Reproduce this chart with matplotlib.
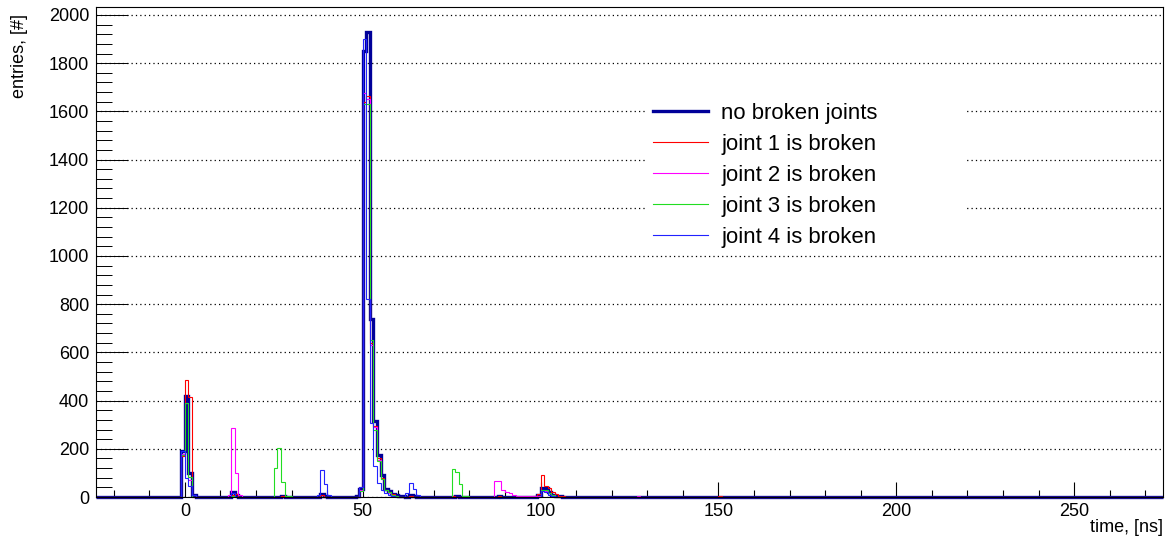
import numpy as np
import matplotlib
matplotlib.use('Agg')
import matplotlib.pyplot as plt
from matplotlib.patches import Rectangle

plt.rcParams['font.family'] = ['Liberation Sans', 'DejaVu Sans']

# histogram binning: 1 ns bins from -25 to 275 ns
t_min, t_max = -25, 275

# sparse bin contents: left bin edge [ns] -> entries
nobroken_t = [-1, 0, 1, 2, 13, 14, 27, 38, 39, 48, 49, 50, 51, 52, 53, 54, 55, 56, 57, 58, 59, 60, 61,
              63, 64, 76, 88, 99, 100, 101, 102, 103, 104, 105]
nobroken_n = [190, 420, 100, 10, 20, 8, 4, 12, 6, 5, 35, 1850, 1930, 740, 315, 175, 90, 35, 25, 14, 8, 5, 3,
              10, 5, 4, 6, 8, 36, 36, 20, 10, 5, 3]

joint1_t = [-1, 0, 1, 13, 14, 27, 38, 49, 50, 51, 52, 53, 54, 55, 56, 57, 58, 59, 63, 75, 88,
            98, 99, 100, 101, 102, 103, 104, 105, 106, 150]
joint1_n = [170, 485, 415, 10, 12, 5, 10, 40, 1640, 1665, 640, 295, 160, 80, 30, 22, 12, 6, 5, 4, 5,
            5, 12, 91, 46, 39, 22, 11, 6, 3, 3]

joint2_t = [-1, 0, 1, 12, 13, 14, 15, 49, 50, 51, 52, 53, 54, 55, 56, 57, 58, 59,
            87, 88, 89, 90, 91, 92, 93, 94, 95, 96, 97, 98, 99, 100, 101, 102, 103, 127]
joint2_n = [180, 390, 70, 8, 288, 100, 10, 30, 1675, 1650, 630, 290, 155, 75, 30, 18, 8, 5,
            65, 65, 29, 22, 15, 8, 6, 5, 5, 4, 4, 5, 6, 30, 25, 15, 8, 3]

joint3_t = [-1, 0, 1, 13, 25, 26, 27, 28, 29, 49, 50, 51, 52, 53, 54, 55, 56, 57, 58, 59,
            75, 76, 77, 78, 79, 100, 101, 102, 103]
joint3_n = [175, 390, 85, 5, 120, 202, 64, 6, 4, 25, 1630, 1630, 650, 280, 150, 75, 30, 20, 10, 5,
            116, 102, 53, 6, 4, 30, 28, 15, 8]

joint4_t = [-1, 0, 1, 2, 13, 37, 38, 39, 40, 49, 50, 51, 52, 53, 54, 55, 56, 57, 58,
            62, 63, 64, 65, 100, 101, 102, 103]
joint4_n = [190, 78, 45, 10, 15, 10, 112, 55, 10, 40, 1900, 820, 307, 130, 60, 30, 15, 8, 5,
            15, 60, 35, 10, 25, 20, 10, 5]

labels = ['no broken joints', 'joint 1 is broken', 'joint 2 is broken',
          'joint 3 is broken', 'joint 4 is broken']

edges = np.arange(t_min, t_max + 1)


def fill_hist(ts, ns):
    h = np.zeros(len(edges) - 1)
    for t, n in zip(ts, ns):
        h[t - t_min] = n
    return h


fig = plt.figure(figsize=(11.65, 5.46), dpi=100)
ax = fig.add_axes([96 / 1165, 1 - 497 / 546, (1163 - 96) / 1165, (497 - 7) / 546])

series = [
    (nobroken_t, nobroken_n, '#000099', 2.4),
    (joint1_t, joint1_n, '#ff0000', 0.8),
    (joint2_t, joint2_n, '#ff00ff', 0.8),
    (joint3_t, joint3_n, '#22dd22', 0.8),
    (joint4_t, joint4_n, '#2222ff', 0.8),
]
for (ts, ns, c, lw), lab in zip(series, labels):
    ax.stairs(fill_hist(ts, ns), edges, color=c, lw=lw, label=lab, clip_on=False, zorder=2)

ax.set_xlim(t_min, t_max)
ax.set_ylim(0, 2033)

ax.set_xticks(np.arange(0, 251, 50))
ax.set_xticks(np.arange(-20, 275, 10), minor=True)
ax.set_yticks(np.arange(0, 2001, 200))
ax.set_yticks(np.arange(0, 2001, 40), minor=True)
ax.tick_params(axis='x', which='major', direction='in', length=10.8, width=0.8, labelsize=13, pad=4)
ax.tick_params(axis='x', which='minor', direction='in', length=5.4, width=0.8)
ax.tick_params(axis='y', which='major', direction='in', length=23, width=0.7, labelsize=13, pad=5)
ax.tick_params(axis='y', which='minor', direction='in', length=11.5, width=0.7)
ax.grid(axis='y', which='major', color='black', linestyle=(0, (1, 2.5)), lw=0.9)
ax.set_axisbelow(True)
for s in ax.spines.values():
    s.set_linewidth(0.8)

# white legend box (ROOT TLegend without border) hiding the grid behind it
ax.add_patch(Rectangle((645 / 1165, 1 - 250 / 546), 320 / 1165, 160 / 546,
                       transform=fig.transFigure, facecolor='white', edgecolor='none', zorder=1))

fig.text(20 / 1165, 1 - 14 / 546, 'entries, [#]', rotation=90, ha='center', va='top', fontsize=13)
fig.text(1163 / 1165, 1 - 527 / 546, 'time, [ns]', ha='right', va='center', fontsize=13)

leg = ax.legend(loc='upper left', bbox_to_anchor=(653 / 1165, 1 - 103 / 546),
                bbox_transform=fig.transFigure, frameon=False, fontsize=15.9,
                handlelength=2.5, handletextpad=0.6, labelspacing=0.45,
                borderpad=0, borderaxespad=0)

fig.savefig('out.png', dpi=100)
